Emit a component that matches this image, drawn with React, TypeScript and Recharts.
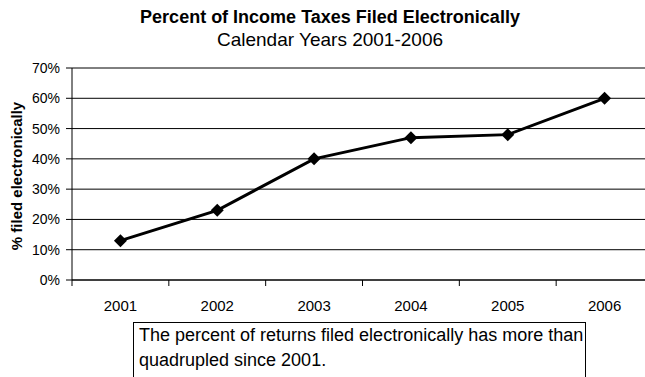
import { LineChart, Line, XAxis, YAxis, CartesianGrid, ReferenceLine } from 'recharts'

const years = ['2001', '2002', '2003', '2004', '2005', '2006']
const pctFiled = [13, 23, 40, 47, 48, 60]
const yTicks = [0, 10, 20, 30, 40, 50, 60, 70]
const noteLines = ['The percent of returns filed electronically has more than', 'quadrupled since 2001.']

const data = years.map((year, i) => ({ year, pct: pctFiled[i] }))

const FONT = '"Liberation Sans", Arial, sans-serif'

// category label in the middle, tick marks on the band edges like Excel
function YearTick(props: any) {
  const { x, y, payload, index, visibleTicksCount, width } = props
  const half = payload?.offset ?? width / visibleTicksCount / 2
  return (
    <g>
      <line x1={x - half} y1={y} x2={x - half} y2={y + 6} stroke="#000" />
      {index === visibleTicksCount - 1 && <line x1={x + half} y1={y} x2={x + half} y2={y + 6} stroke="#000" />}
      <text x={x} y={y + 25} textAnchor="middle" dominantBaseline="central" fontSize={15} fontFamily={FONT} fill="#000">
        {payload.value}
      </text>
    </g>
  )
}

function Diamond(props: any) {
  const { cx, cy } = props
  const r = 6.5
  return <polygon points={`${cx},${cy - r} ${cx + r},${cy} ${cx},${cy + r} ${cx - r},${cy}`} fill="#000" />
}

export default function App() {
  return (
    <div style={{ position: 'absolute', left: 0, top: 0, width: 645, height: 377, overflow: 'hidden', background: '#fff', fontFamily: FONT }}>
      <div style={{ position: 'absolute', left: 0, width: 660, top: 6, textAlign: 'center', fontSize: 18, fontWeight: 'bold', lineHeight: '22px' }}>
        Percent of Income Taxes Filed Electronically
      </div>
      <div style={{ position: 'absolute', left: 0, width: 660, top: 29, textAlign: 'center', fontSize: 19, lineHeight: '22px' }}>
        Calendar Years 2001-2006
      </div>
      <div style={{ position: 'absolute', left: 16, top: 176, transform: 'translate(-50%, -50%) rotate(-90deg)', whiteSpace: 'nowrap', fontSize: 15, fontWeight: 'bold' }}>
        % filed electronically
      </div>
      <LineChart width={680} height={377} data={data} margin={{ top: 68, right: 27, left: 0, bottom: 67 }}>
        <CartesianGrid vertical={false} stroke="#000" strokeWidth={1} />
        <XAxis dataKey="year" scale="band" height={30} tick={<YearTick />} tickLine={false} tickSize={0} tickMargin={0} axisLine={{ stroke: '#000' }} interval={0} />
        <YAxis domain={[0, 70]} ticks={yTicks} width={72} tickFormatter={(v) => `${v}%`} tick={{ fontSize: 14, fill: '#000', fontFamily: FONT }} tickLine={{ stroke: '#000' }} tickSize={6} tickMargin={6} axisLine={{ stroke: '#000' }} />
        <ReferenceLine y={70} stroke="#808080" />
        <Line type="linear" dataKey="pct" stroke="#000" strokeWidth={3} dot={<Diamond />} activeDot={false} isAnimationActive={false} />
      </LineChart>
      <div style={{ position: 'absolute', left: 133, top: 322, width: 453, height: 80, border: '1px solid #000', boxSizing: 'border-box', padding: '0 5px', fontSize: 18, lineHeight: '25px', background: '#fff' }}>
        {noteLines.map((t) => (
          <div key={t} style={{ whiteSpace: 'nowrap' }}>{t}</div>
        ))}
      </div>
    </div>
  )
}
